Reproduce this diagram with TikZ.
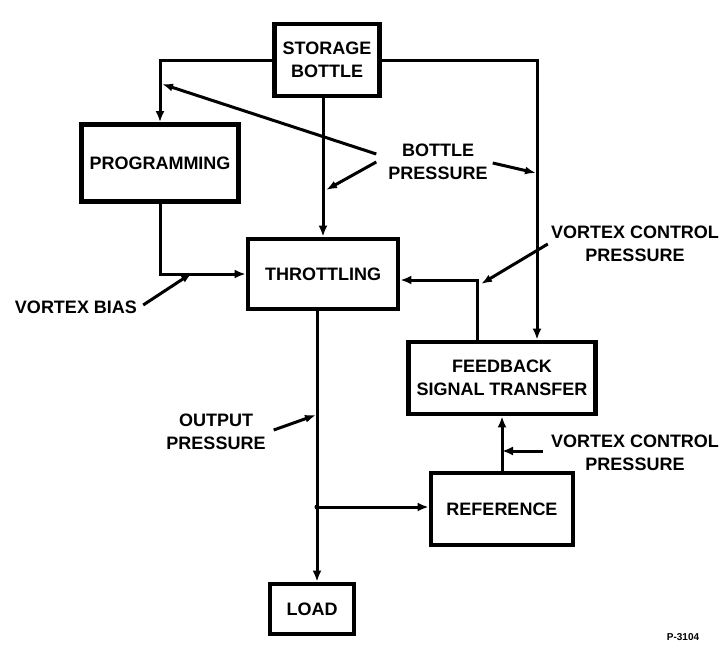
\documentclass[tikz,border=0pt]{standalone}
\usepackage{fontspec}
\setmainfont{Liberation Sans}
\usetikzlibrary{arrows.meta,calc}
\begin{document}
\begin{tikzpicture}[x=1pt,y=-1pt,
  box/.style={draw, line width=4.8pt, inner sep=0pt, align=center,
    font=\bfseries\fontsize{18}{23}\selectfont},
  lbl/.style={inner sep=0pt, align=center, font=\bfseries\fontsize{18}{23}\selectfont},
  conn/.style={line width=3pt, -{Latex[length=11pt,width=9pt]}},
  lead/.style={line width=3pt, -{Latex[length=11pt,width=8pt]}}]
\useasboundingbox (0,0) rectangle (726,646);

% boxes
\node[box, minimum width=105pt, minimum height=72pt] (bottle) at (327,60) {STORAGE\\BOTTLE};
\node[box, minimum width=157pt, minimum height=77pt] (prog) at (160,163) {PROGRAMMING};
\node[box, minimum width=150pt, minimum height=70pt] (throt) at (323,274) {THROTTLING};
\node[box, minimum width=187pt, minimum height=72pt] (feed) at (502,378) {FEEDBACK\\SIGNAL TRANSFER};
\node[box, minimum width=142pt, minimum height=72pt] (ref) at (502,509) {REFERENCE};
\node[box, minimum width=84pt, minimum height=50pt] (load) at (312,609) {LOAD};

% labels
\node[lbl] (bp) at (438,162) {BOTTLE\\PRESSURE};
\node[lbl] (vcu) at (635,244) {VORTEX CONTROL\\PRESSURE};
\node[lbl] (vcl) at (635,453) {VORTEX CONTROL\\PRESSURE};
\node[lbl] (bias) at (76,307) {VORTEX BIAS};
\node[lbl] (outp) at (216,432) {OUTPUT\\PRESSURE};
\node[inner sep=0pt, font=\bfseries\fontsize{10}{12}\selectfont] (pnum) at (683,637) {P-3104};

% coordinates
\coordinate (j) at (317,507);
\coordinate (rx) at (537,0);
\coordinate (fx) at (477,0);
\coordinate (vcin) at (543,451);

% connectors
\draw[conn] (bottle.west) -| (prog.north);
\draw[conn] (bottle.east) -| (rx |- feed.north);
\draw[conn] (bottle.south -| throt.north) -- (throt.north);
\draw[conn] (prog.south) |- (throt.west);
\draw[conn] (fx |- feed.north) |- ($(throt.east)+(0,6)$);
\draw[line width=3pt] (j |- throt.south) -- (j);
\draw[conn] (j) -- (j |- load.north);
\draw[conn] (j) -- (ref.west |- j);
\fill (j) circle (2.5pt);
\draw[conn] (ref.north) -- (feed.south);
\draw[conn] (vcin) -- (vcin -| ref.north);

% leaders
\coordinate (t1) at (162,84);
\coordinate (t2) at (326,190);
\coordinate (t3) at (536,173);
\coordinate (t4) at (192,273);
\coordinate (t5) at (316,415);
\coordinate (t6) at (481,284);
\draw[lead] ($(bp.west)+(-12,-8)$) -- (t1);
\draw[lead] ($(bp.west)+(-12,0)$) -- (t2);
\draw[lead] ($(bp.east)+(5,1)$) -- (t3);
\draw[lead] ($(bias.east)+(6,-2)$) -- (t4);
\draw[lead] ($(outp.east)+(8,-2)$) -- (t5);
\draw[lead] ($(vcu.west)+(-3,0)$) -- (t6);
\end{tikzpicture}
\end{document}
